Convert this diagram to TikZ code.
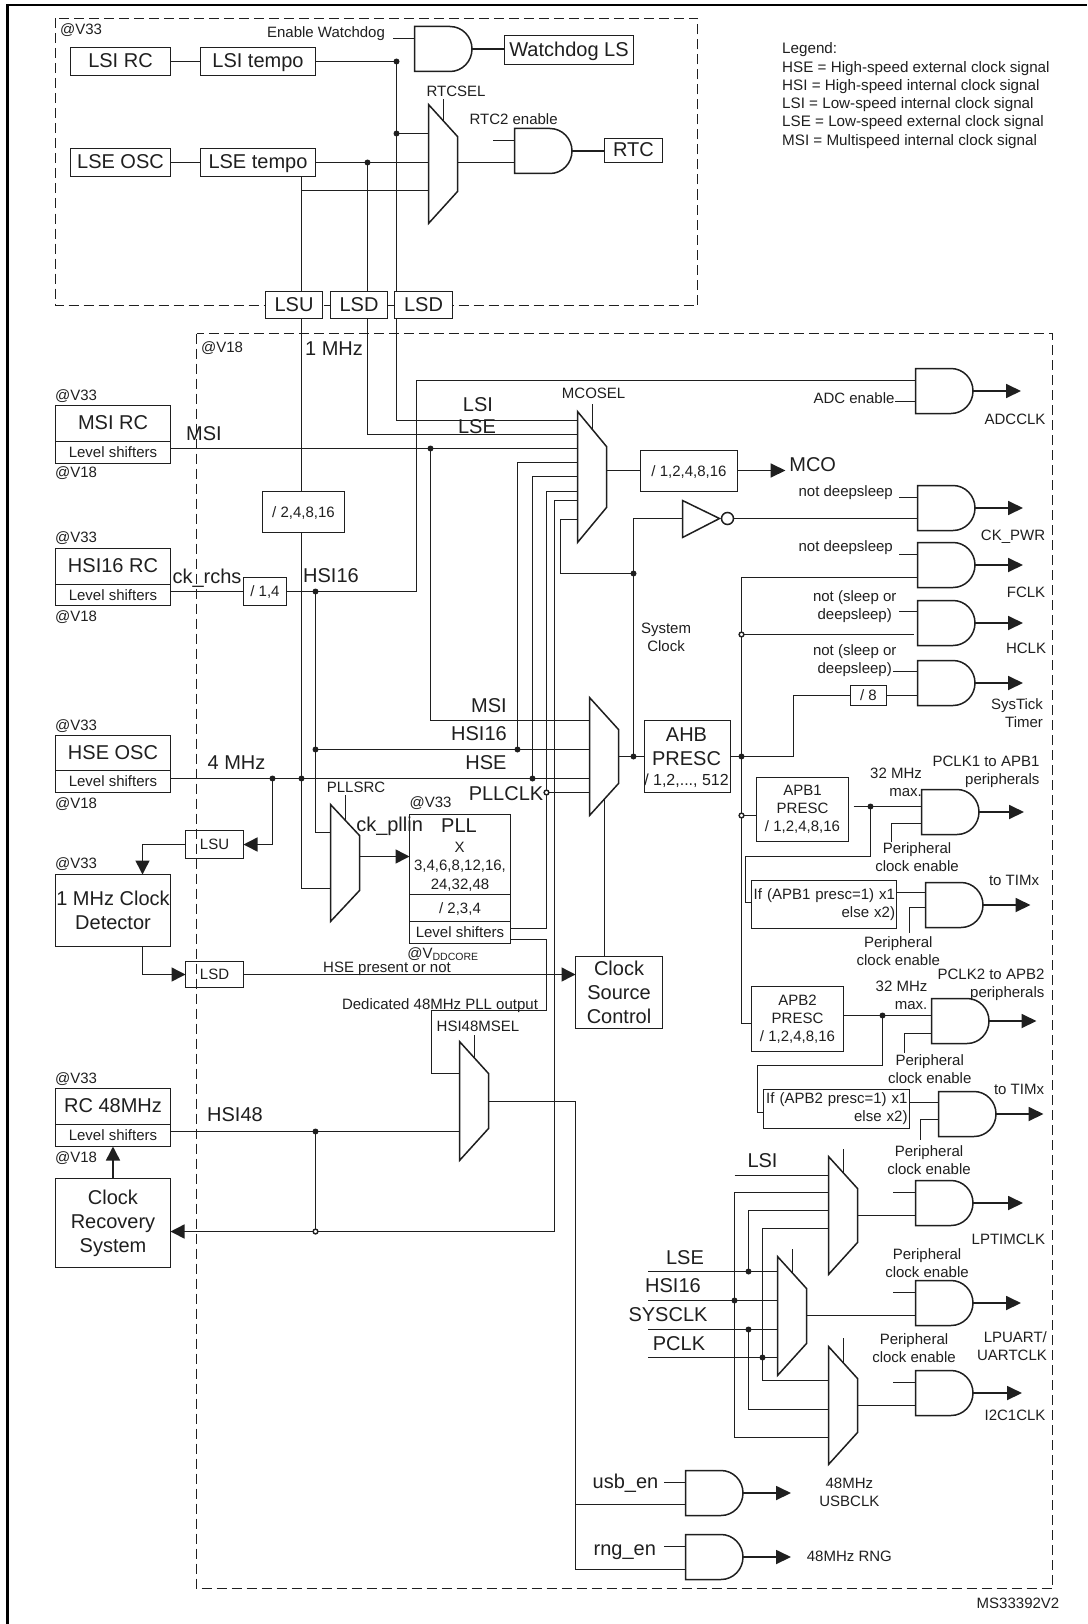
\documentclass[tikz,border=0pt]{standalone}
\usepackage{fontspec}
\setmainfont{Liberation Sans}
\usetikzlibrary{arrows.meta}
\colorlet{ink}{black!88}
\tikzset{
  wire/.style={draw=ink,line width=1.5pt},
  sig/.style={draw=ink,line width=1.8pt,-{Triangle[length=15pt,width=14pt,fill=ink]}},
  tip/.style={draw=ink,line width=1.5pt,-{Triangle[length=14pt,width=14pt,fill=ink]}},
  frm/.style={draw=ink,line width=1.4pt,dash pattern=on 10pt off 5pt},
  box/.style={draw=ink,line width=1.5pt,fill=white,inner sep=0pt,outer sep=0pt,align=center,text=ink},
  boxtall/.style={box,font=\fontsize{20}{24}\selectfont},
  boxtallsm/.style={box,font=\fontsize{15}{18}\selectfont},
  boxbig/.style={boxtall,text height=14.3pt,text depth=1.5pt},
  boxsm/.style={boxtallsm,text height=10.7pt,text depth=0pt},
  lblbig/.style={inner sep=0pt,text=ink,font=\fontsize{20}{24}\selectfont,text height=14.3pt,text depth=0pt},
  lblsm/.style={inner sep=0pt,text=ink,font=\fontsize{15}{18}\selectfont,text height=10.7pt,text depth=0pt},
  lbltwo/.style={inner sep=0pt,text=ink,font=\fontsize{15}{18}\selectfont,align=center},
}
% and gate: name, x, y, first input y, second input y
\newcommand{\andgate}[5]{
  \draw[wire,fill=white] (#2,#3) -- (#2+35.5,#3)
    arc[start angle=90,end angle=-90,x radius=22pt,y radius=22.5pt] -- (#2,#3+45) -- cycle;
  \coordinate (#1-a) at (#2,#4);
  \coordinate (#1-b) at (#2,#5);
  \coordinate (#1-o) at (#2+57.5,#3+22.5);
}
% selector: name, x, y, height, corner drop, output y
\newcommand{\muxsel}[6]{
  \draw[wire,fill=white] (#2,#3) -- (#2+29,#3+#5) -- (#2+29,#3+#4-#5) -- (#2,#3+#4) -- cycle;
  \coordinate (#1-o) at (#2+29,#6);
  \coordinate (#1-s) at (#2+15,#3+#5/2);
}
\begin{document}
\begin{tikzpicture}[x=1pt,y=-1pt]
  \useasboundingbox (0,0) rectangle (1087,1624);
  \draw[line width=2.2pt,black] (7.5,1624) -- (7.5,5) -- (1087,5);

  % junctions and selector inputs
  \foreach \n/\x/\y in {jlsi/396.5/61.5,jsel/396.5/133.5,jlse/367.5/162.5,jlu/301.5/190.5,
      jrtca/428.5/133.5,jrtcb/428.5/162.5,jrtcc/428.5/190.5,
      jmcoa/577.5/420.5,jmcob/577.5/434.5,jmcoc/577.5/448.5,jmcod/577.5/462.5,jmcoe/577.5/476.5,
      jmcof/577.5/491.5,jmcog/577.5/500.5,jmcoh/577.5/519.5,jmsi/430.5/448.5,
      jhsi/315.5/591.5,jhsib/315.5/749.5,jhsic/517.5/749.5,jadc/416.5/591.5,
      jahba/589.5/720.5,jahbb/589.5/749.5,jahbc/589.5/778.5,jahbd/589.5/792.5,
      jhsea/272.5/778.5,jheb/301.5/778.5,jhec/532.5/778.5,jpl/546.5/792.5,
      jplla/330.5/832.5,jpllb/330.5/888.5,jlsud/142.5/844.5,
      jsys/633.5/756.5,jsysb/633.5/573.5,jfb/560.5/573.5,jinv/682.5/518.5,
      jclk/741.5/756.5,jhclk/741.5/634.5,japb/741.5/815.5,jlow/741.5/1023.5,
      jsyt/793.5/756.5,
      jp1/870.5/806.5,jp2/882.5/1015.5,jpq/853.5/806.5,
      ja1/828.5/1175.5,ja2/828.5/1192.5,ja3/828.5/1210.5,ja4/828.5/1228.5,
      jc1/828.5/1380.5,jc2/828.5/1409.5,jc3/828.5/1437.5,
      jb1/777.5/1271.5,jb2/777.5/1300.5,jb3/777.5/1329.5,jb4/777.5/1357.5,
      jd1/748.5/1271.5,jd2/734.5/1300.5,jd3/748.5/1329.5,jd4/762.5/1357.5,
      jr48/315.5/1131.5,jr48b/315.5/1231.5,jr48c/554.5/1231.5,jmsa/459.5/1073.5,jmsb/459.5/1131.5,
      jout/575.5/1101.5}
    \coordinate (\n) at (\x,\y);

  \draw[frm] (55.5,18.5) rectangle (697.5,305.5);

  % boxes
  \node[boxbig,minimum width=100,minimum height=28] (lsirc) at (120.5,61.5) {LSI RC};
  \node[boxbig,minimum width=115,minimum height=28] (lsitempo) at (258,61.5) {LSI tempo};
  \node[boxbig,minimum width=100,minimum height=28] (lseosc) at (120.5,162.5) {LSE OSC};
  \node[boxbig,minimum width=115,minimum height=28] (lsetempo) at (258,162.5) {LSE tempo};
  \node[boxbig,minimum width=129,minimum height=29] (wdogls) at (569,50) {Watchdog LS};
  \node[boxbig,minimum width=58,minimum height=24] (rtcbox) at (633.5,150.5) {RTC};
  \node[boxbig,minimum width=57,minimum height=27] (lsutop) at (294,305) {LSU};
  \node[boxbig,minimum width=57,minimum height=27] (lsda) at (359,305) {LSD};
  \node[boxbig,minimum width=58,minimum height=27] (lsdb) at (423.5,305) {LSD};
  \node[boxbig,minimum width=115,minimum height=36] (msirc) at (113,423.5) {MSI RC};
  \node[boxsm,minimum width=115,minimum height=22] (msils) at (113,452.5) {Level shifters};
  \node[boxbig,minimum width=115,minimum height=36] (hsirc) at (113,566.5) {HSI16 RC};
  \node[boxsm,minimum width=115,minimum height=21] (hsils) at (113,595) {Level shifters};
  \node[boxsm,minimum width=43,minimum height=28] (div14) at (265,591.5) {/ 1,4};
  \node[boxsm,minimum width=82,minimum height=41] (div2) at (303.5,512) {/ 2,4,8,16};
  \node[boxbig,minimum width=115,minimum height=35] (hseosc) at (113,753) {HSE OSC};
  \node[boxsm,minimum width=115,minimum height=22] (hsels) at (113,781.5) {Level shifters};
  \node[boxsm,minimum width=58,minimum height=28] (lsubot) at (214.5,844.5) {LSU};
  \node[boxtall,minimum width=115,minimum height=72] (detect) at (113,910.5) {1 MHz Clock\\Detector};
  \node[boxsm,minimum width=58,minimum height=26] (lsdbot) at (214.5,974.5) {LSD};
  \node[boxtall,minimum width=87,minimum height=72] (ctrl) at (619,992.5) {Clock\\Source\\Control};
  \node[box,minimum width=101,minimum height=80] (pllbox) at (460,854.5) {};
  \node[boxsm,minimum width=101,minimum height=27] (plldiv) at (460,908) {/ 2,3,4};
  \node[boxsm,minimum width=101,minimum height=22] (pllls) at (460,932.5) {Level shifters};
  \node[box,minimum width=86,minimum height=72] (ahb) at (687.5,756.5) {};
  \node[boxtallsm,minimum width=92,minimum height=64] (apba) at (802.5,809.5) {APB1\\PRESC\\/ 1,2,4,8,16};
  \node[boxtallsm,minimum width=145,minimum height=48,text width=142,align=right] (ifa) at (824,904.5) {If (APB1 presc=1) x1\\else x2)};
  \node[boxtallsm,minimum width=92,minimum height=65] (apbb) at (797.5,1019) {APB2\\PRESC\\/ 1,2,4,8,16};
  \node[boxtallsm,minimum width=146,minimum height=39,text width=142,align=right] (ifb) at (836.5,1109) {If (APB2 presc=1) x1\\else x2)};
  \node[boxsm,minimum width=97,minimum height=41] (mcodiv) at (689,471) {/ 1,2,4,8,16};
  \node[boxsm,minimum width=36,minimum height=20] (diveight) at (868.5,695.5) {/ 8};
  \node[boxbig,minimum width=115,minimum height=36] (rcfe) at (113,1106.5) {RC 48MHz};
  \node[boxsm,minimum width=115,minimum height=22] (rcfels) at (113,1135.5) {Level shifters};
  \node[boxtall,minimum width=115,minimum height=89] (crs) at (113,1223) {Clock\\Recovery\\System};

  % upper block wires
  \draw[wire] (lsirc) -- (lsitempo);
  \draw[wire] (lseosc) -- (lsetempo);
  \draw[wire] (lsetempo.east) -- (jrtcb);
  \draw[wire] (jsel) -- (jrtca);
  \draw[wire] (jrtcc) -- (jlu);
  \draw[wire] (jlu |- lsetempo.south) -- (jlu |- lsutop.north);
  \draw[wire] (jlse) -- (jlse |- lsda.north);
  \draw[wire] (lsitempo.east) -- (jlsi) -- (jsel |- lsdb.north);

  % long runs down to the selectors
  \draw[wire] (jlse |- lsda.south) |- (jmcob);
  \draw[wire] (jsel |- lsdb.south) |- (jmcoa);
  \draw[wire] (jlu |- lsutop.south) -- (jlu |- div2.north);
  \draw[wire] (jlu |- div2.south) |- (jpllb);
  \draw[wire] (msils.east |- jmsi) -- (jmcoc);
  \draw[wire] (jmsi) |- (jahba);
  \draw[wire] (hsils.east |- div14) -- (div14.west);
  \draw[wire] (div14.east) -- (jadc);

  % selectors
  \muxsel{rtcsel}{428.5}{104.5}{119}{32}{162.5}
  \muxsel{mcosel}{577.5}{411.5}{131}{35}{470.5}
  \muxsel{ahbsel}{589.5}{697.5}{118}{32}{756.5}
  \muxsel{pllsel}{330.5}{804.5}{117}{31}{856.5}
  \muxsel{hsisel}{459.5}{1041.5}{119}{32}{1101.5}
  \muxsel{asel}{828.5}{1156.5}{118}{32}{1215.5}
  \muxsel{bsel}{777.5}{1256.5}{119}{32}{1315.5}
  \muxsel{csel}{828.5}{1346.5}{118}{32}{1405.5}
  \foreach \m/\l in {rtcsel/21,mcosel/25,pllsel/25,hsisel/23,asel/24,bsel/24,csel/25}
    \draw[wire] (\m-s) -- ++(0,-\l);

  % gates
  \andgate{wdg}{414.5}{26.5}{38.5}{61.5}
  \andgate{rtcand}{514.5}{128.5}{140.5}{162.5}
  \andgate{adc}{915.5}{368.5}{380.5}{401.5}
  \andgate{pwr}{917.5}{485.5}{497.5}{518.5}
  \andgate{fclk}{917.5}{542.5}{554.5}{577.5}
  \andgate{hclk}{917.5}{600.5}{611.5}{634.5}
  \andgate{syst}{917.5}{660.5}{671.5}{695.5}
  \andgate{ganda}{921.5}{789.5}{806.5}{823.5}
  \andgate{tima}{925.5}{882.5}{892.5}{907.5}
  \andgate{gandb}{931.5}{998.5}{1015.5}{1033.5}
  \andgate{timb}{938.5}{1091.5}{1102.5}{1119.5}
  \andgate{lpt}{915.5}{1180.5}{1192.5}{1215.5}
  \andgate{lpu}{915.5}{1280.5}{1292.5}{1315.5}
  \andgate{itc}{915.5}{1370.5}{1382.5}{1405.5}
  \andgate{usb}{685.5}{1470.5}{1482.5}{1504.5}
  \andgate{rng}{685.5}{1534.5}{1546.5}{1569.5}

  \foreach \g/\l in {wdg/22,rtcand/22,pwr/18.6,fclk/18.6,hclk/18.6,syst/24.6,lpt/22.4,lpu/22.4,itc/22.4,usb/22,rng/22}
    \draw[wire] (\g-a) -- ++(-\l,0);
  \draw[wire] (adc-b) -- ++(-21,0);
  \foreach \g/\l in {adc/48,pwr/48,fclk/48,hclk/48,syst/48,ganda/45,tima/47.5,gandb/47.5,timb/47.5,lpt/50,lpu/48,itc/49,usb/48,rng/48}
    \draw[sig] (\g-o) -- ++(\l,0);

  % clock tree
  \draw[wire] (jadc) |- (adc-a);
  \draw[wire] (jhsi) |- (jplla);
  \draw[wire] (jhsib) -- (jahbb);
  \draw[wire] (jhsic) |- (jmcod);
  \draw[wire] (jhec) |- (jmcoe);
  \draw[wire] (jpl) |- (jmcof);
  \draw[wire] (pllls.east |- 0,928.5) -| (jpl);
  \draw[wire] (hsels.east |- jhsea) -- (jahbc);
  \draw[wire] (jpl) -- (jahbd);
  \draw[tip] (jhsea) |- (lsubot.east);
  \draw[tip] (lsubot.west) -| (detect.north -| jlsud);
  \draw[tip] (detect.south -| jlsud) |- (lsdbot.west);
  \draw[tip] (lsdbot.east) -- (ctrl.west |- lsdbot);
  \draw[tip] (pllsel-o) -- (pllbox.west |- pllsel-o);
  \draw[wire] (604.5,800) -- (ctrl.north -| 604.5,0);
  \draw[wire] (wdg-o) -- (wdogls.west |- wdg-o);
  \draw[wire] (rtcsel-o) -- (rtcand-b);
  \draw[wire] (rtcand-o) -- (rtcbox.west |- rtcand-o);
  \draw[wire] (mcosel-o) -- (mcodiv.west |- mcosel-o);
  \draw[sig] (mcodiv.east |- mcosel-o) -- ++(48,0);
  \draw[wire] (ahbsel-o) -- (ahb.west |- ahbsel-o);
  \draw[wire] (jsys) |- (jinv);
  \draw[wire] (jsysb) -- (jfb) |- (jmcoh);
  \draw[wire] (ahb.east |- jclk) -- (jsyt) |- (diveight.west);
  \draw[wire] (diveight.east) -- (syst-b);
  \draw[wire] (fclk-b) -| (jlow) -- (apbb.west |- jlow);
  \draw[wire] (jhclk) -- ([xshift=-3.6pt]hclk-b);
  \draw[wire] (japb) -- (apba.west |- japb);

  % inverter
  \draw[wire,fill=white] (jinv |- 0,500.5) -- (719.5,518.5) -- (jinv |- 0,537.5) -- cycle;
  \draw[wire,fill=white] (727.5,518.5) circle (6);
  \draw[wire] (733.5,518.5) -- (pwr-b);

  % peripheral prescalers
  \draw[wire] (jpq) -- (ganda-a);
  \draw[wire] (jp1) |- (745.5,856.5) |- (ifa.west |- 0,902.5);
  \draw[wire] (ganda-b) -| (891.5,841.5);
  \draw[wire] (ifa.east |- tima-a) -- (tima-a);
  \draw[wire] (tima-b) -| (909.5,932.5);
  \draw[wire] (apbb.east |- jp2) -- (gandb-a);
  \draw[wire] (jp2) |- (757.5,1065.5) |- (ifb.west |- 0,1112.5);
  \draw[wire] (gandb-b) -| (904.5,1052.5);
  \draw[wire] (ifb.east |- timb-a) -- (timb-a);
  \draw[wire] (timb-b) -| (920.5,1139.5);

  % peripheral selectors
  \draw[wire] (734.5,1175.5) -- (ja1);
  \draw[wire] (jc3) -| (734.5,1192.5) -- (ja2);
  \draw[wire] (jd1) |- (ja3);
  \draw[wire] (jc1) -| (762.5,1228.5) -- (ja4);
  \draw[wire] (jd3) |- (jc2);
  \foreach \n in {jb1,jb2,jb3,jb4}
    \draw[wire] (\n) -- (\n -| 647.5,0);
  \draw[wire] (asel-o) -- (lpt-b);
  \draw[wire] (bsel-o) -- (lpu-b);
  \draw[wire] (csel-o) -- (itc-b);

  % 48 MHz
  \draw[wire] (pllls.east |- 0,939.5) -| (546.5,1010.5) -| (431.5,1073.5) -- (jmsa);
  \draw[wire] (rcfels.east |- jr48) -- (jmsb);
  \draw[wire] (jr48) -- (jr48b);
  \draw[wire] (jmcog) -| (jr48c) -- (jr48b);
  \draw[tip] (jr48b) -- (crs.east |- jr48b);
  \draw[tip] (crs.north) -- (rcfels.south);
  \draw[wire] (hsisel-o) -- (jout) |- (rng-b);
  \draw[wire] (jout |- usb-b) -- (usb-b);

  \draw[frm] (196.5,333.5) rectangle (1052.5,1588.5);

  % dots
  \foreach \p in {jlsi,jsel,jlse,jmsi,jhsi,jhsib,jhsic,jhsea,jheb,jhec,jsys,jsysb,jclk,jp1,jp2,jd1,jd2,jd3,jd4,jr48}
    \fill[ink] (\p) circle (3);
  \foreach \p in {jpl,jhclk,japb,jr48b}
    \draw[ink,line width=1.4pt,fill=white] (\p) circle (2.4);

  % small labels
  \foreach \n/\x/\y/\t in {tenwd/326/32/Enable Watchdog,trtcs/456/91/RTCSEL,trtcen/513.6/119.3/RTC2 enable,
      tva/81/29/@V33,tvb/222/347.6/@V18,tvc/76/395/@V33,tvd/76/472/@V18,tve/76/537/@V33,tvf/76/616.5/@V18,
      tvg/76/725/@V33,tvh/76/803/@V18,tvi/76/863.4/@V33,tvj/430.5/802/@V33,tvk/76/1078.4/@V33,tvl/76/1157/@V18,
      tvm/443/953/@V\textsubscript{DDCORE},tmcos/593.6/392.7/MCOSEL,tadc/854/397.7/ADC enable,tadcc/1015/418.7/ADCCLK,
      tnda/845.7/491/not deepsleep,tndb/845.7/546/not deepsleep,tpwr/1013/534.7/CK\_PWR,tfclk/1026/592/FCLK,
      thclk/1026/648/HCLK,tsrc/356/787/PLLSRC,tx/459.5/847/X,tmula/460/865/{3,4,6,8,12,16,},tmulb/460/884/{24,32,48},
      tpres/387/967/HSE present or not,tded/440/1004.5/Dedicated 48MHz PLL output,tmsel/478/1026.3/HSI48MSEL,
      ttima/1014/880/to TIMx,ttimb/1019/1089.3/to TIMx,
      tlpt/1008.4/1238.7/LPTIMCLK,titc/1015/1415.3/I2C1CLK,trng/849.4/1555.7/48MHz RNG,tms/1018/1602.7/MS33392V2}
    \node[lblsm] (\n) at (\x,\y) {\t};
  \node[lblsm,font=\fontsize{16}{18}\selectfont] (tahb) at (686.5,779.7) {/ 1,2,..., 512};

  % big labels
  \foreach \n/\x/\y/\t in {lmhz/334/348/1 MHz,lmsi/204/433/MSI,llsi/478/404/LSI,llse/477/426/LSE,lmco/812.7/464.7/MCO,
      lrchs/207/576/ck\_rchs,lhsi/331/575.5/HSI16,lfour/236.5/762.4/4 MHz,lmsib/489/705/MSI,lhsib/479/733/HSI16,
      lhse/486/762/HSE,lpll/506/793.4/PLLCLK,lpin/389.6/824.5/ck\_pllin,lplb/459/825.5/PLL,lhf/235/1114/HSI48,
      lahb/686.5/734/AHB,lpsc/686.5/758/PRESC,lulsi/762.5/1160/LSI,lulse/685/1257/LSE,luhsi/673/1285/HSI16,
      lusys/668/1314/SYSCLK,lupck/679/1343/PCLK,lusb/625.5/1481/usb\_en,lrng/624.8/1548/rng\_en}
    \node[lblbig] (\n) at (\x,\y) {\t};

  % two line labels
  \foreach \n/\x/\y in {ppa/917/857,ppb/898.3/951,ppc/929.7/1069.5,ppd/929/1160,ppe/927/1263,ppf/914/1348}
    \node[lbltwo] (\n) at (\x,\y) {Peripheral\\clock enable};
  \node[lbltwo] (tnsa) at (854.7,607) {not (sleep or\\deepsleep)};
  \node[lbltwo] (tnsb) at (854.7,661) {not (sleep or\\deepsleep)};
  \node[lbltwo] (tsysc) at (666,637.5) {System\\Clock};
  \node[lbltwo,align=right] (ttick) at (1017,713) {SysTick\\Timer};
  \node[lbltwo,align=right] (tmaxa) at (896,782) {32 MHz\\max.};
  \node[lbltwo,align=right] (tmaxb) at (901.5,995) {32 MHz\\max.};
  \node[lbltwo,align=right] (tpca) at (986,772) {PCLK1 to APB1\\peripherals};
  \node[lbltwo,align=right] (tpcb) at (991,985) {PCLK2 to APB2\\peripherals};
  \node[lbltwo,align=right] (tlpu) at (1012,1346) {LPUART/\\UARTCLK};
  \node[lbltwo] (tusb) at (849.4,1492) {48MHz\\USBCLK};
  \node[lbltwo,align=left,anchor=north west,font=\fontsize{15.2}{18.3}\selectfont] (tleg) at (782,42.5) {Legend:\\HSE = High-speed external clock signal\\HSI = High-speed internal clock signal\\LSI = Low-speed internal clock signal\\LSE = Low-speed external clock signal\\MSI = Multispeed internal clock signal};
\end{tikzpicture}
\end{document}
